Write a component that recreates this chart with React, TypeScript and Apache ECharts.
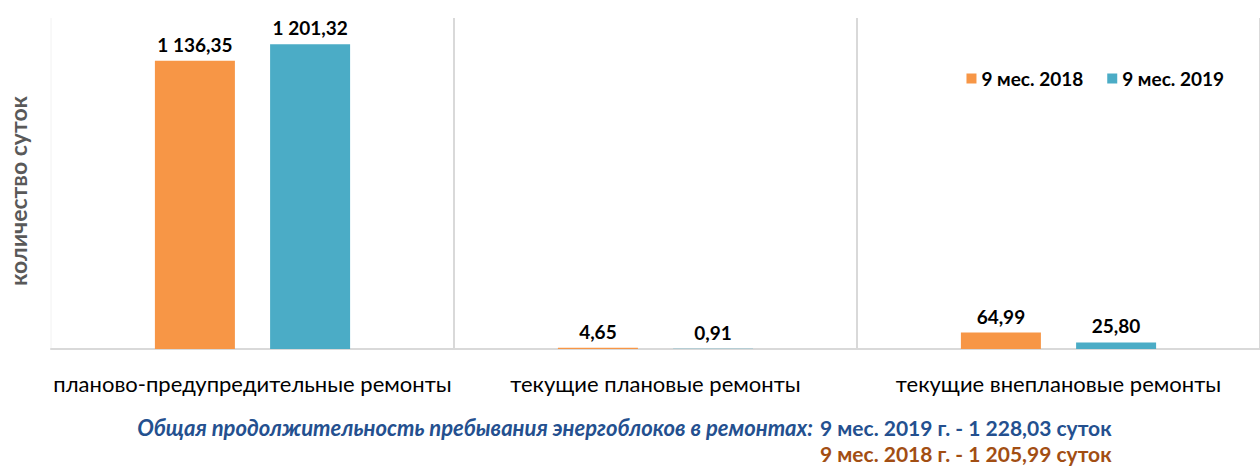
import React, { useEffect, useRef } from "react";
import * as echarts from "echarts";

const categories = [
  "планово-предупредительные ремонты",
  "текущие плановые ремонты",
  "текущие внеплановые ремонты",
];
const seriesNames = ["9 мес. 2018", "9 мес. 2019"];
const values2018 = [1136.35, 4.65, 64.99];
const values2019 = [1201.32, 0.91, 25.8];
const yAxisTitle = "количество суток";
const noteLead = "Общая продолжительность пребывания энергоблоков в ремонтах";
const note2019 = "9 мес. 2019 г. - 1 228,03 суток";
const note2018 = "9 мес. 2018 г. - 1 205,99 суток";

const FONT = "Lato, 'Noto Sans', sans-serif";

function fmt(v: number): string {
  const parts = v.toFixed(2).split(".");
  const int = parts[0].replace(/\B(?=(\d{3})+(?!\d))/g, " ");
  return int + "," + parts[1];
}

export default function App() {
  const ref = useRef<HTMLDivElement>(null);
  useEffect(() => {
    if (!ref.current) return;
    const chart = echarts.init(ref.current, null, { renderer: "svg" });
    const label = {
      show: true,
      position: "top" as const,
      distance: 7,
      fontFamily: FONT,
      fontWeight: "bold" as const,
      fontSize: 19,
      color: "#000",
      formatter: (p: any) => fmt(p.value),
    };
    chart.setOption({
      animation: false,
      backgroundColor: "#fff",
      grid: { left: 51, top: 18, width: 1216, height: 331, containLabel: false },
      legend: {
        data: seriesNames,
        top: 64,
        right: 31,
        itemWidth: 10,
        itemHeight: 10,
        itemGap: 24,
        icon: "rect",
        textStyle: { fontFamily: FONT, fontWeight: "bold", fontSize: 19, color: "#000" },
      },
      xAxis: {
        type: "category",
        data: categories,
        axisLine: { show: true, lineStyle: { color: "#d9d9d9", width: 2 } },
        axisTick: { show: false },
        axisLabel: {
          interval: 0,
          margin: 23,
          fontFamily: FONT,
          fontSize: 22,
          color: "#000",
        },
        splitLine: {
          show: true,
          interval: (i: number) => i !== 0,
          lineStyle: { color: "#d9d9d9", width: 2 },
        },
      },
      yAxis: {
        type: "value",
        min: 0,
        max: 1305,
        show: false,
        splitLine: { show: false },
      },
      series: [
        {
          name: seriesNames[0],
          type: "bar",
          data: values2018,
          barWidth: 80,
          barGap: "44%",
          itemStyle: { color: "#F79646" },
          label,
        },
        {
          name: seriesNames[1],
          type: "bar",
          data: values2019,
          barWidth: 80,
          barGap: "44%",
          itemStyle: { color: "#4BACC6" },
          label,
        },
      ],
      graphic: [
        {
          type: "line",
          shape: { x1: 51, y1: 18, x2: 51, y2: 349 },
          style: { stroke: "#f2f2f2", lineWidth: 1 },
          silent: true,
        },
        {
          type: "text",
          x: 18,
          y: 191,
          rotation: Math.PI / 2,
          style: {
            text: yAxisTitle,
            fontFamily: FONT,
            fontWeight: "bold",
            fontSize: 23,
            fill: "#595959",
            align: "center",
            verticalAlign: "middle",
          },
        },
        {
          type: "text",
          x: 813,
          y: 427,
          style: {
            text: noteLead + ":",
            fontFamily: FONT,
            fontWeight: "bold",
            fontStyle: "italic",
            fontSize: 22,
            fill: "#24508F",
            align: "right",
            verticalAlign: "middle",
          },
        },
        {
          type: "text",
          x: 820,
          y: 427,
          style: {
            text: note2019,
            fontFamily: FONT,
            fontWeight: "bold",
            fontSize: 21,
            fill: "#24508F",
            align: "left",
            verticalAlign: "middle",
          },
        },
        {
          type: "text",
          x: 820,
          y: 453,
          style: {
            text: note2018,
            fontFamily: FONT,
            fontWeight: "bold",
            fontSize: 21,
            fill: "#A24E13",
            align: "left",
            verticalAlign: "middle",
          },
        },
      ],
    });
    return () => chart.dispose();
  }, []);
  return (
    <div
      ref={ref}
      style={{ position: "fixed", left: 0, top: 0, width: 1260, height: 467 }}
    />
  );
}
